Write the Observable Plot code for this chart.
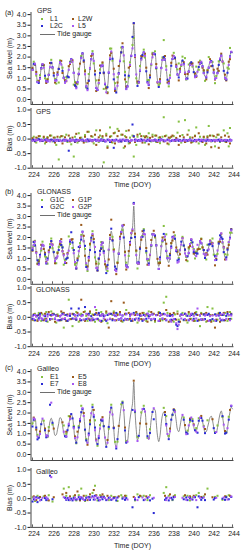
<!DOCTYPE html>
<html><head><meta charset="utf-8">
<script src="https://cdn.jsdelivr.net/npm/d3@7"></script>
<script src="https://cdn.jsdelivr.net/npm/@observablehq/plot@0.6"></script>
<style>
html,body{margin:0;padding:0;background:#fff;}
#root{position:relative;width:245px;height:550px;overflow:hidden;font-family:"Liberation Sans",Arial,Helvetica,sans-serif;color:#1a1a1a;}
#root svg{position:absolute;left:0;}
.lg{position:absolute;font-size:7px;line-height:8px;white-space:nowrap;color:#1a1a1a;}
.mk{position:absolute;width:2.5px;height:2.5px;}
.ln{position:absolute;height:0;border-top:1px solid #6e6e6e;}
</style></head><body><div id="root"></div>
<script>
const _ = null;
// ---- tick labels ----
const seaTicks = [0, 0.5, 1, 1.5, 2, 2.5, 3, 3.5, 4];
const biasTicks = [-1, -0.5, 0, 0.5, 1];
const doyLabels = [224, 226, 228, 230, 232, 234, 236, 238, 240, 242, 244];
const doyTicks = [224,225,226,227,228,229,230,231,232,233,234,235,236,237,238,239,240,241,242,243,244];
const startDoy = 224;
const samplesPerDay = 8;
// ---- tide gauge sea level (m), 3-hourly, one row per day from DOY 224 ----
const tideGauge = [
[1.45,1.70,1.72,1.25,0.85,0.78,1.05,1.50],
[1.70,1.55,1.15,0.88,0.90,1.20,1.60,1.75],
[1.55,1.20,0.92,0.95,1.20,1.50,1.78,1.72],
[1.40,1.05,0.85,0.90,1.15,1.45,1.75,1.95],
[1.80,1.30,0.75,0.60,0.85,1.25,1.65,2.00],
[2.20,1.90,1.25,0.65,0.52,0.95,1.50,1.95],
[2.20,1.85,1.20,0.60,0.48,0.85,1.30,1.60],
[1.65,1.30,0.80,0.42,0.60,1.30,2.00,2.30],
[1.95,1.25,0.55,0.35,0.70,1.30,1.85,2.30],
[2.50,2.10,1.20,0.55,0.65,1.20,1.70,2.10],
[2.45,3.50,2.10,1.20,0.70,0.85,1.40,1.95],
[2.15,2.25,2.10,1.40,0.85,0.72,1.10,1.70],
[2.05,2.20,2.15,1.55,0.90,0.62,0.90,1.50],
[1.90,2.05,1.95,1.45,0.95,0.80,1.10,1.65],
[1.95,2.10,2.00,1.60,1.20,1.10,1.35,1.70],
[1.88,1.70,1.30,1.02,1.05,1.35,1.65,1.80],
[1.65,1.35,1.12,1.15,1.35,1.55,1.75,1.80],
[1.60,1.30,1.08,1.10,1.30,1.55,1.78,1.85],
[1.65,1.30,1.02,1.05,1.30,1.65,1.95,2.10],
[1.85,1.40,1.05,1.00,1.30,1.70,2.05,2.28]
];
const tideGaugeEnd = 2.20;

// ---- GNSS-IR bias (cm) vs tide gauge, same 3-hourly slots ----
const gpsL1 = [
[-5,8,_,-12,3,_,10,-6],[_,4,-15,_,7,-3,_,12],[-8,_,5,-20,_,-70,6,_],[10,-4,_,15,-10,_,3,-18],
[_,-60,8,_,-12,20,_,5],[-6,_,14,-9,_,25,-4,_],[8,-15,_,30,_,-10,12,_],[5,-80,_,18,-25,_,40,10],
[-12,_,22,_,35,-8,_,15],[_,-30,10,28,_,-15,5,_],[12,-60,_,-20,8,_,18,-5],[_,10,-12,_,6,20,_,-8],
[15,_,12,-10,_,5,-14,_],[8,75,-6,12,_,-18,4,_],[_,10,-5,_,22,60,_,-12],[14,_,65,-8,_,30,6,_],
[-10,_,12,40,_,-15,8,_],[_,5,-20,_,10,45,_,-8],[12,_,-25,6,_,15,-10,_],[_,30,-8,_,20,-25,38,_]
];
const gpsL2W = [
[3,_,-8,5,_,10,-4,_],[-6,8,_,-10,4,_,12,-3],[_,5,-12,_,8,-5,_,10],[-15,_,6,-4,_,12,-8,_],
[5,_,-10,18,_,-6,4,_],[_,-12,8,_,25,-5,_,10],[-8,_,15,-20,_,6,30,_],[10,-6,_,12,-30,_,8,-10],
[_,20,-15,_,10,28,_,-8],[15,_,-25,6,_,30,-12,_],[_,8,-10,_,15,-5,_,10],[-12,_,6,10,_,-18,4,_],
[8,-5,_,12,-10,_,6,_],[_,-8,10,_,-15,5,_,8],[12,_,-6,4,_,-20,10,_],[_,6,-10,_,15,-5,_,-12],
[5,_,10,-8,_,20,-6,_],[-10,8,_,-15,6,_,12,-28],[_,10,-8,_,15,-30,_,6],[-6,_,12,-10,_,8,-15,_]
];
const gpsL2C = [
[-4,-2,-6,_,-3,0,-5,-2],[-6,_,-3,-1,-5,-4,_,-2],[-3,-7,_,-4,-2,-6,-3,_],[-5,-2,-4,_,-6,-40,-1,-5],
[_,-4,-8,-2,-3,-5,_,-3],[-2,-6,_,-4,-1,-7,-3,-5],[-4,_,-2,-6,-3,_,-5,-1],[-6,-3,-8,_,-2,-4,-10,_],
[-3,-30,-5,-2,_,-6,-4,-8],[-2,_,-6,-4,-3,-8,_,-5],[50,10,-2,_,-6,-3,-5,-1],[-5,-3,_,-7,-2,-4,-6,_],
[_,-4,-2,-6,_,-3,-5,-1],[-3,-5,-7,_,-2,-4,_,-6],[-4,_,-3,-5,-2,-6,-3,_],[-5,-2,_,-4,-6,-3,-1,-5],
[_,-6,-3,-4,_,-2,-5,-7],[-3,-4,_,-6,-2,-5,_,-4],[-6,-3,-5,_,-4,-2,-7,-3],[_,-5,-3,-6,-4,_,-2,-5]
];
const gpsL5 = [
[-6,_,-3,-5,-2,_,-7,-4],[-3,-5,_,-2,-6,-4,-8,_],[-5,_,-2,-6,-4,_,-3,-7],[_,-4,-6,-2,_,-5,-3,-6],
[-2,-5,_,-7,-4,-3,_,-5],[-4,_,-6,-3,-8,_,-2,-5],[-6,-3,_,-5,-2,-7,_,-4],[-3,_,-5,-8,_,-2,-6,-4],
[_,-6,-3,_,-5,-9,-2,_],[-5,-2,_,-6,-4,_,-7,-3],[-4,_,-6,-2,_,-5,-3,-7],[_,-3,-5,_,-6,-2,_,-4],
[-6,-4,_,-3,-7,_,-5,-2],[-4,_,-6,-5,_,-3,-8,_],[-3,-6,_,-4,-2,_,-5,-7],[_,-5,-3,-6,_,-4,-2,_],
[-5,_,-7,-3,-4,_,-6,-2],[-4,-6,_,-2,_,-5,-3,-7],[_,-3,-5,-4,-6,_,-2,-5],[-6,_,-4,-3,_,-7,-5,-3]
];
const gloG1C = [
[5,-10,12,_,-8,15,3,-12],[10,_,-5,18,-15,_,8,20],[-6,12,_,-18,10,5,_,-10],[15,-35,8,_,-12,60,-6,_],
[-30,10,-5,18,_,-15,8,12],[_,-8,20,5,-12,_,15,-5],[10,_,-15,25,8,-10,_,18],[-12,6,_,15,-20,10,-5,_],
[8,20,-10,_,12,-6,18,_],[-15,_,10,25,_,-8,5,-12],[_,12,-6,15,-18,_,10,5],[-8,15,_,-12,6,20,_,-10],
[12,_,-15,8,_,18,-6,10],[-10,50,_,70,15,_,-12,8],[_,-15,10,_,20,-8,5,_],[15,-10,_,6,-18,12,_,-5],
[_,10,-12,18,_,-8,-30,15],[-6,_,12,-15,35,_,8,-10],[30,-12,_,10,-8,15,_,_],[-10,8,15,_,-12,6,18,-5]
];
const gloG1P = [
[-8,10,_,5,-12,8,_,15],[_,-10,12,-5,_,18,-8,6],[12,_,-15,8,5,_,-10,20],[-5,15,_,-12,10,_,8,-6],
[12,_,6,-8,15,_,-10,60],[_,18,-12,_,10,-5,20,_],[-10,8,_,15,-6,12,_,-15],[10,_,-8,20,_,-35,12,55],
[-6,15,_,-10,8,_,18,-12],[_,50,12,-8,_,15,-5,10],[-12,_,8,18,_,-10,12,-6],[15,-8,_,10,-15,_,6,18],
[_,12,-10,_,8,15,-12,_],[10,_,-6,25,_,-15,12,8],[-10,15,_,-8,12,_,-15,_],[8,_,12,-10,_,18,-6,10],
[_,-12,15,_,8,-10,_,12],[-8,10,_,15,-12,_,6,-15],[8,_,-35,-8,_,12,-15,8],[_,15,-10,_,18,-6,_,12]
];
const gloG2C = [
[-5,8,-10,_,6,-3,12,_],[-8,_,4,-12,10,_,-6,8],[_,10,-5,6,_,-10,4,-8],[12,_,-6,8,-12,_,5,30],
[-4,10,_,-8,6,30,_,-10],[8,_,35,-6,_,12,-10,4],[_,-8,10,_,-5,15,6,-12],[10,4,_,-12,8,_,-6,12],
[-10,_,6,15,_,-8,10,-4],[6,-10,_,12,-6,_,8,-12],[_,15,-8,_,10,-4,6,_],[-12,8,_,-5,12,4,_,-8],
[10,_,-6,8,_,-12,15,_],[-5,12,_,-10,6,_,5,-8],[8,_,-6,-25,-30,-15,_,10],[_,-8,12,_,5,-10,_,8],
[12,-5,_,10,-12,_,6,-8],[_,10,-6,_,8,12,-10,_],[-6,_,10,-12,_,6,15,-10],[8,-10,_,5,12,_,-6,10]
];
const gloG2P = [
[4,-6,8,2,_,-8,5,-3],[-5,6,_,-8,3,10,_,-6],[8,_,-4,6,-10,_,3,7],[-6,10,-3,_,5,-8,12,_],
[_,-5,8,-3,_,10,-6,4],[6,-8,_,12,-4,7,_,-10],[-3,_,35,-6,8,_,-12,5],[10,-4,6,_,-8,12,-5,_],
[_,8,-10,4,_,-6,10,-3],[7,_,-5,10,-8,_,4,12],[-6,10,_,-4,8,-10,_,6],[_,-8,5,_,12,-3,8,-6],
[10,-5,_,7,_,-12,5,8],[-4,_,10,-8,6,_,-10,-15],[4,-6,_,-20,-40,-25,6,-4],[8,_,-6,10,_,-8,4,12],
[-10,5,_,-4,30,_,8,-6],[_,-8,6,10,_,-12,4,_],[6,_,-10,5,8,_,-4,10],[-8,12,_,-5,_,8,-10,6]
];
const galE1 = [
[5,_,-8,_,10,_,_,_],[_,8,_,_,-5,12,_,_],[-10,_,_,_,_,_,_,_],[_,35,_,10,_,40,-5,_],
[_,8,_,-6,_,12,_,35],[_,_,-8,10,_,_,5,_],[20,_,45,_,-6,_,12,_],[_,8,_,_,_,-5,_,10],
[_,_,6,_,-8,_,_,12],[5,_,_,10,_,_,_,_],[_,_,-6,_,15,_,_,8],[_,10,_,_,-5,_,12,_],
[_,_,_,_,_,_,_,_],[_,20,_,40,_,10,_,_],[-5,_,12,_,_,_,_,_],[_,8,_,_,10,_,-6,_],
[5,_,_,12,_,20,_,_],[_,8,_,_,35,_,_,_],[_,_,6,_,10,_,_,_],[-4,_,_,8,_,12,_,_]
];
const galE5 = [
[_,8,_,-5,_,_,6,_],[_,_,10,_,_,-6,_,_],[_,5,_,_,_,_,_,_],[15,_,_,20,_,_,8,_],
[_,_,12,_,25,_,-6,_],[_,10,_,_,-5,_,15,_],[_,30,_,12,_,_,_,8],[15,_,_,_,10,_,_,_],
[_,5,_,_,_,8,_,_],[_,_,10,_,_,_,_,_],[_,6,_,_,_,_,10,_],[_,_,_,8,_,_,_,_],
[_,_,_,_,_,_,_,_],[_,_,10,_,_,_,15,_],[_,8,_,_,_,_,_,_],[_,_,12,_,_,_,8,_],
[_,10,_,_,_,_,_,6],[_,_,15,_,_,_,_,_],[5,_,_,_,_,_,_,_],[_,_,8,_,_,_,10,_]
];
const galE7 = [
[-10,-2,_,5,-12,3,_,-4],[_,_,2,-5,0,_,80,_],[-2,_,_,_,_,_,_,_],[_,_,3,-4,2,-5,_,0],
[-6,2,_,-3,_,5,-2,4],[0,_,-5,3,_,6,-4,_],[8,-3,10,_,2,-6,_,5],[-2,6,_,-5,_,3,_,-4],
[_,2,_,-6,4,_,_,_],[0,_,-4,2,_,_,_,_],[-30,_,-3,_,_,5,_,_],[_,-5,_,_,3,_,-6,_],
[0,-50,_,_,_,_,_,_],[_,_,-4,2,_,-6,_,3],[-3,5,_,_,_,_,_,_],[_,-2,_,4,-5,_,2,_],
[-3,_,5,_,-30,8,_,-4],[3,_,-5,_,_,_,_,_],[_,-3,2,_,_,_,_,_],[0,_,-4,5,_,-2,_,6]
];
const galE8 = [
[_,4,-3,_,2,_,-6,_],[3,_,_,5,-2,_,_,75],[_,_,_,_,_,_,_,_],[_,5,_,-2,_,3,-4,_],
[_,-3,4,_,-2,_,6,_],[3,-4,_,_,5,-2,_,4],[_,6,-3,8,_,4,-5,_],[5,_,2,_,-3,_,4,_],
[-2,_,_,3,_,_,_,_],[_,4,_,_,-3,_,_,_],[_,_,2,_,-5,_,_,_],[4,_,-3,_,_,6,_,_],
[_,3,_,_,_,_,_,_],[_,_,_,-5,4,_,2,_],[_,_,6,_,_,_,_,_],[3,_,_,-4,_,5,_,-2],
[_,6,_,-5,_,_,3,_],[_,4,_,_,_,_,_,_],[_,_,_,3,_,_,_,_],[_,4,_,_,-3,_,_,8]
];

// ---- names / colours ----
const systems = ["GPS", "GLONASS", "Galileo"];
const panelTags = ["(a)", "(b)", "(c)"];
const signalNames = [["L1","L2W","L2C","L5"],["G1C","G1P","G2C","G2P"],["E1","E5","E7","E8"]];
const signalData = [[gpsL1,gpsL2W,gpsL2C,gpsL5],[gloG1C,gloG1P,gloG2C,gloG2P],[galE1,galE5,galE7,galE8]];
const signalColors = ["#86c043", "#9a5a1c", "#2b2bd4", "#a658f2"];
const tideColor = "#6e6e6e";
const INK = "#1a1a1a";
const FONT = '"Liberation Sans", Arial, Helvetica, sans-serif';

// ---- tables built from the arrays ----
const tideSeries = [];
tideGauge.forEach((row, d) => row.forEach((v, j) => tideSeries.push({t: startDoy + d + j / samplesPerDay, v})));
tideSeries.push({t: startDoy + tideGauge.length, v: tideGaugeEnd});

function gnssTable(sys) {
  const rows = [];
  signalData[sys].forEach((sig, k) => sig.forEach((row, d) => row.forEach((b, j) => {
    if (b == null) return;
    rows.push({t: startDoy + d + j / samplesPerDay, bias: b / 100, sea: tideGauge[d][j] + b / 100, c: signalColors[k]});
  })));
  return rows;
}

// ---- layout ----
const W = 245, ML = 30.5, MR = 11.5;
const xDomain = [223.85, 244.15];
const geo = [
  {sea: {top: 0, h: 106, mt: 12, mb: 2, y: [-0.235, 4.1]}, bias: {top: 104, h: 83.7, mt: 4, mb: 20, lo: 19}, tag: 13, lg: 11},
  {sea: {top: 181, h: 104.8, mt: 12, mb: 2, y: [-0.235, 4.1]}, bias: {top: 281.8, h: 84.2, mt: 4, mb: 20, lo: 19}, tag: 192, lg: 192},
  {sea: {top: 357, h: 105, mt: 12, mb: 2, y: [-0.29, 4.1]}, bias: {top: 463.6, h: 84.4, mt: 4, mb: 21.5, lo: 20.5}, tag: 368, lg: 369}
];
const fmt1 = d => d.toFixed(1);
const baseStyle = {background: "transparent", fontFamily: FONT, fontSize: "7px", color: INK, overflow: "visible"};

function seaPlot(g, rows) {
  const ph = g.h - g.mt - g.mb;
  return Plot.plot({
    width: W, height: g.h, marginLeft: ML, marginRight: MR, marginTop: g.mt, marginBottom: g.mb,
    style: baseStyle, color: {type: "identity"},
    x: {domain: xDomain, axis: null}, y: {domain: g.y},
    marks: [
      Plot.axisY(seaTicks, {tickSize: 3, tickPadding: 1.5, tickFormat: fmt1, label: "Sea level (m)", labelAnchor: "center", labelOffset: 24, labelArrow: false, fontSize: 7}),
      Plot.ruleX([xDomain[0]], {stroke: INK, strokeWidth: 0.8}),
      Plot.ruleY([g.y[0]], {stroke: INK, strokeWidth: 0.8}),
      Plot.ruleX(doyTicks, {insetTop: ph - 2.5, stroke: INK, strokeWidth: 0.7}),
      Plot.line(tideSeries, {x: "t", y: "v", stroke: tideColor, strokeWidth: 0.8, curve: "catmull-rom"}),
      Plot.dot(rows, {x: "t", y: "sea", fill: "c", symbol: "square", r: 1.15})
    ]
  });
}
function biasPlot(g, rows, name) {
  const ph = g.h - g.mt - g.mb;
  return Plot.plot({
    width: W, height: g.h, marginLeft: ML, marginRight: MR, marginTop: g.mt, marginBottom: g.mb,
    style: baseStyle, color: {type: "identity"},
    x: {domain: xDomain}, y: {domain: [-1, 1.05]},
    marks: [
      Plot.axisY(biasTicks, {tickSize: 3, tickPadding: 1.5, tickFormat: fmt1, label: "Bias (m)", labelAnchor: "center", labelOffset: 24, labelArrow: false, fontSize: 7}),
      Plot.axisX(doyLabels, {tickSize: 0, tickPadding: 4, tickFormat: d => String(d), dx: 1.5, label: "Time (DOY)", labelAnchor: "center", labelOffset: g.lo, labelArrow: false, fontSize: 7}),
      Plot.ruleX([xDomain[0]], {stroke: INK, strokeWidth: 0.8}),
      Plot.ruleY([-1], {stroke: INK, strokeWidth: 0.8}),
      Plot.ruleX(doyTicks, {insetTop: ph - 2.5, stroke: INK, strokeWidth: 0.7}),
      Plot.text([name], {text: d => d, frameAnchor: "top-left", dx: 5, dy: 1, textAnchor: "start", lineAnchor: "top", fontSize: 7, fill: INK}),
      Plot.dot(rows, {x: "t", y: "bias", fill: "c", symbol: "square", r: 1.15})
    ]
  });
}

const root = document.getElementById("root");
function addDiv(cls, left, top, text, extra) {
  const el = document.createElement("div");
  el.className = cls; el.style.left = left + "px"; el.style.top = top + "px";
  if (text != null) el.textContent = text;
  if (extra) Object.assign(el.style, extra);
  root.appendChild(el);
  return el;
}

geo.forEach((g, s) => {
  const rows = gnssTable(s);
  const a = seaPlot(g.sea, rows); a.style.top = g.sea.top + "px"; root.appendChild(a);
  const b = biasPlot(g.bias, rows, systems[s]); b.style.top = g.bias.top + "px"; root.appendChild(b);
  addDiv("lg", 5, g.tag - 4, panelTags[s]);
  const y0 = g.lg;
  addDiv("lg", 37, y0 - 4, systems[s]);
  const names = signalNames[s];
  const rowsY = [y0 + 8, y0 + 15];
  [[0, 0], [1, 0], [2, 1], [3, 1]].forEach(([k, r]) => {
    const col = k % 2;
    const mx = col === 0 ? 40.8 : 71.8;
    addDiv("mk", mx, rowsY[r] - 1.25, null, {background: signalColors[k]});
    addDiv("lg", col === 0 ? 50 : 78, rowsY[r] - 4, names[k]);
  });
  addDiv("ln", 40, y0 + 22.5, null, {width: "15px"});
  addDiv("lg", 57, y0 + 22.5 - 4, "Tide gauge");
});
</script></body></html>
